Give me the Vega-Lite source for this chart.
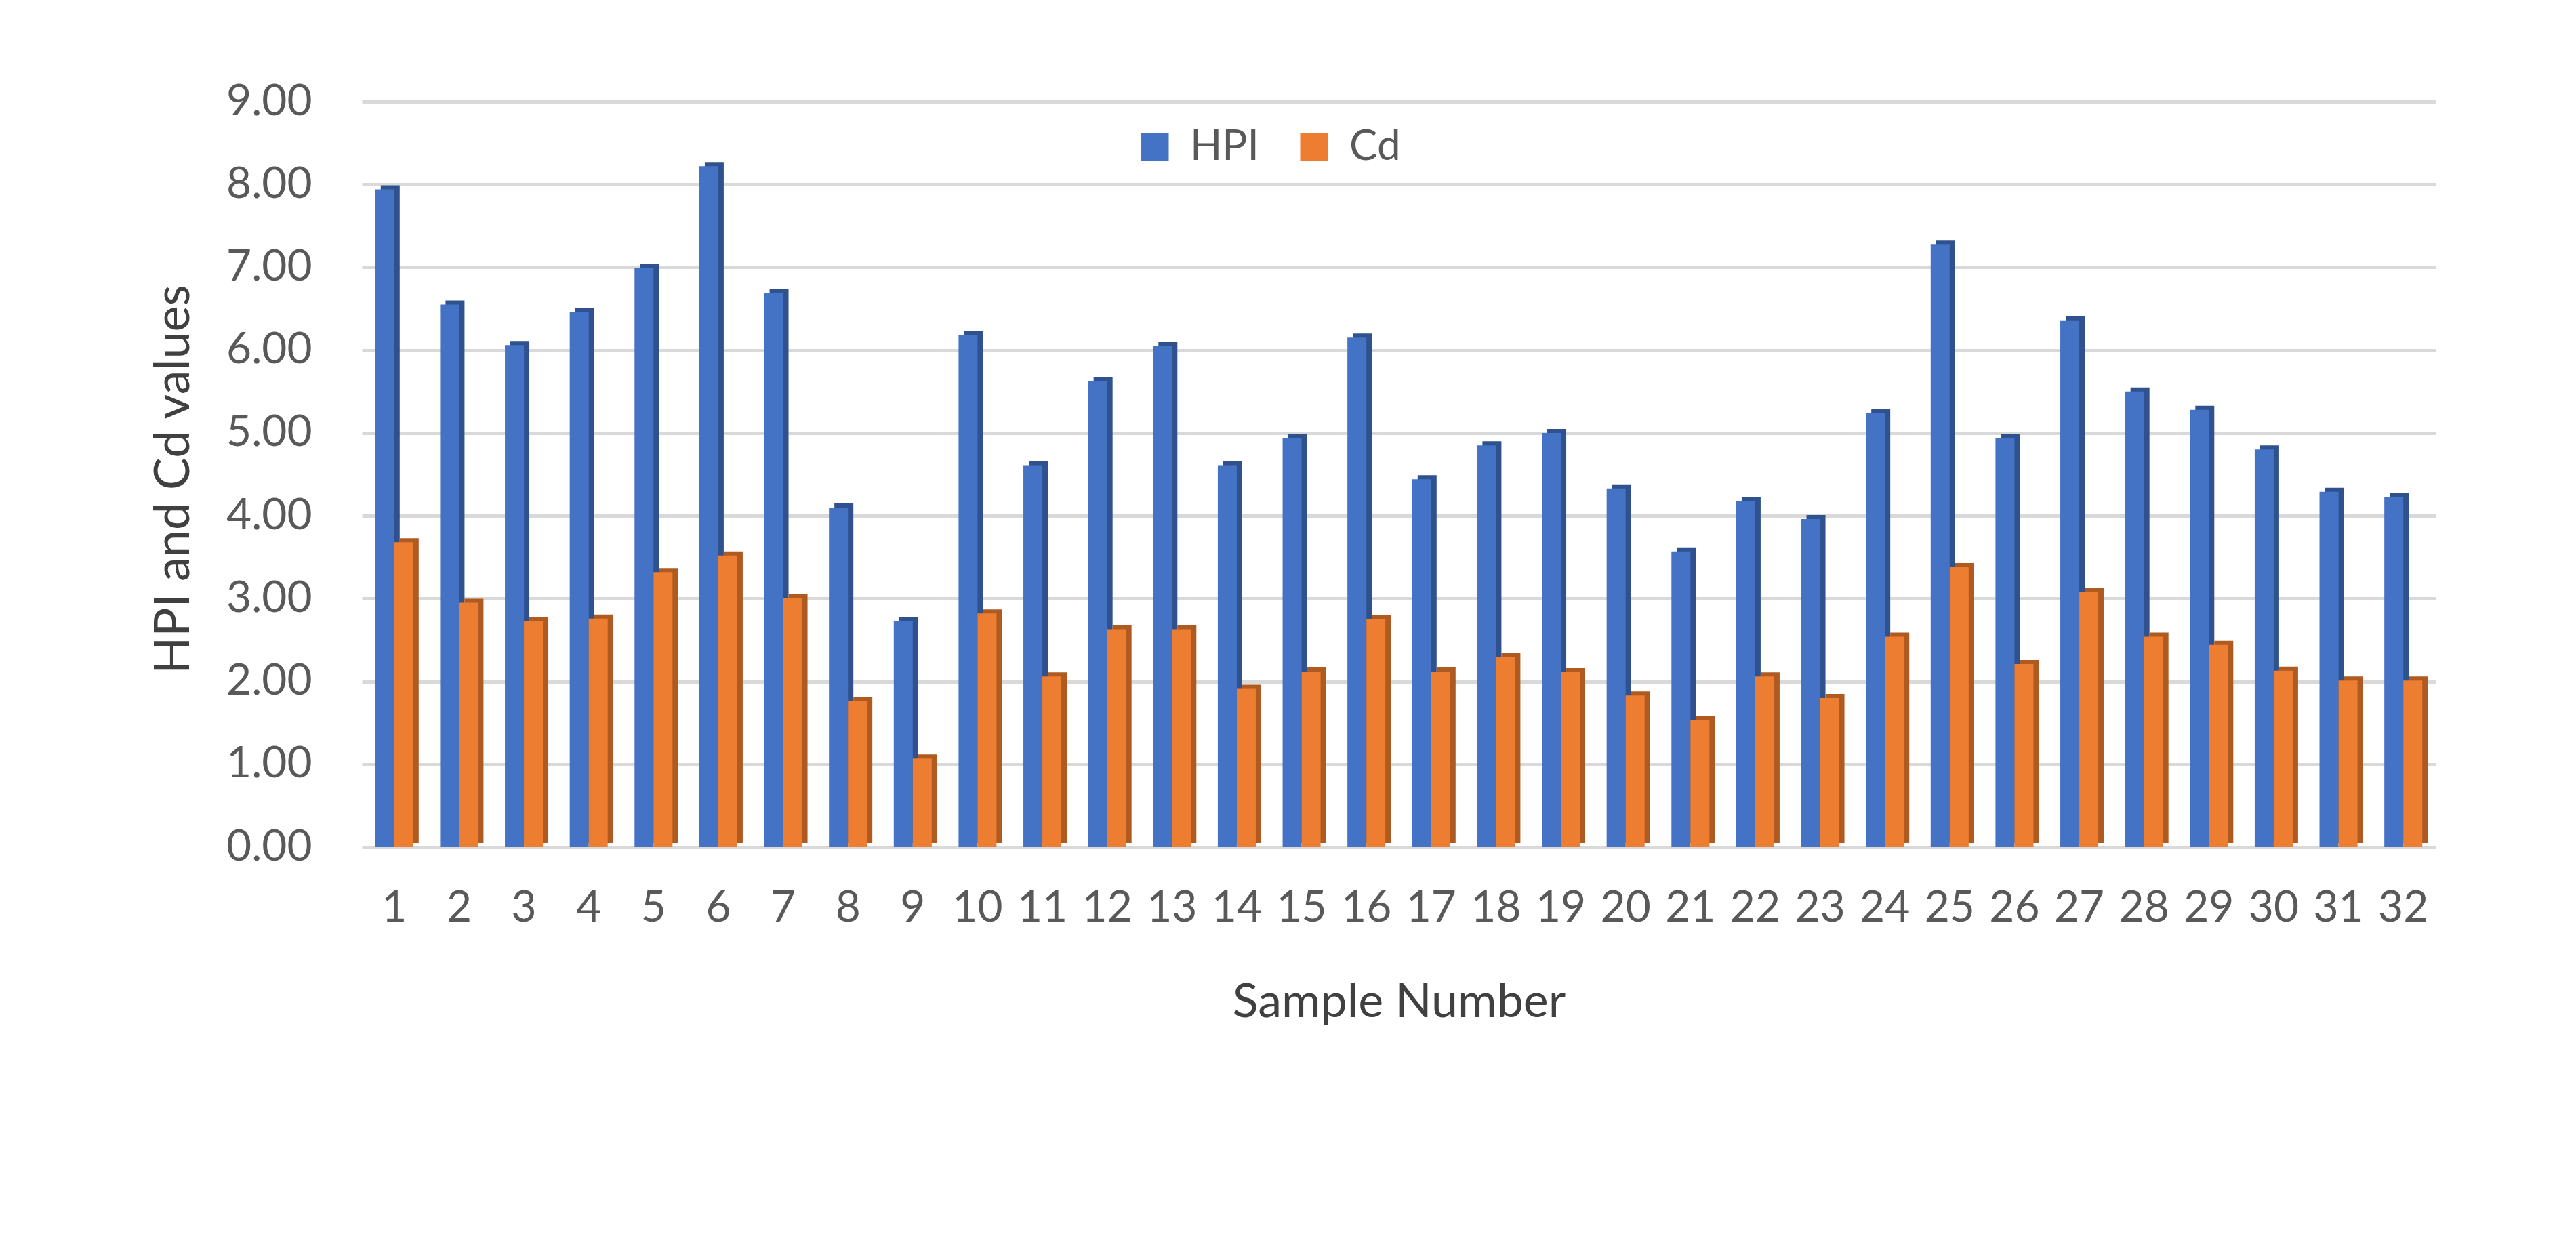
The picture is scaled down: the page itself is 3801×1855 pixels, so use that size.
{
  "$schema": "https://vega.github.io/schema/vega-lite/v6.json",
  "autosize": {"type": "none"},
  "width": 3060,
  "height": 1100,
  "padding": {"left": 534, "top": 150, "right": 207, "bottom": 605},
  "background": "white",
  "config": {
    "font": "Lato",
    "view": {"stroke": null}
  },
  "datasets": {
    "pts": [
      {"sample": 1, "series": "HPI", "value": 7.94}, {"sample": 1, "series": "Cd", "value": 3.68},
      {"sample": 2, "series": "HPI", "value": 6.55}, {"sample": 2, "series": "Cd", "value": 2.95},
      {"sample": 3, "series": "HPI", "value": 6.06}, {"sample": 3, "series": "Cd", "value": 2.73},
      {"sample": 4, "series": "HPI", "value": 6.46}, {"sample": 4, "series": "Cd", "value": 2.76},
      {"sample": 5, "series": "HPI", "value": 6.99}, {"sample": 5, "series": "Cd", "value": 3.32},
      {"sample": 6, "series": "HPI", "value": 8.22}, {"sample": 6, "series": "Cd", "value": 3.52},
      {"sample": 7, "series": "HPI", "value": 6.69}, {"sample": 7, "series": "Cd", "value": 3.01},
      {"sample": 8, "series": "HPI", "value": 4.10}, {"sample": 8, "series": "Cd", "value": 1.76},
      {"sample": 9, "series": "HPI", "value": 2.73}, {"sample": 9, "series": "Cd", "value": 1.07},
      {"sample": 10, "series": "HPI", "value": 6.18}, {"sample": 10, "series": "Cd", "value": 2.82},
      {"sample": 11, "series": "HPI", "value": 4.61}, {"sample": 11, "series": "Cd", "value": 2.06},
      {"sample": 12, "series": "HPI", "value": 5.63}, {"sample": 12, "series": "Cd", "value": 2.63},
      {"sample": 13, "series": "HPI", "value": 6.05}, {"sample": 13, "series": "Cd", "value": 2.63},
      {"sample": 14, "series": "HPI", "value": 4.61}, {"sample": 14, "series": "Cd", "value": 1.91},
      {"sample": 15, "series": "HPI", "value": 4.94}, {"sample": 15, "series": "Cd", "value": 2.12},
      {"sample": 16, "series": "HPI", "value": 6.15}, {"sample": 16, "series": "Cd", "value": 2.75},
      {"sample": 17, "series": "HPI", "value": 4.44}, {"sample": 17, "series": "Cd", "value": 2.12},
      {"sample": 18, "series": "HPI", "value": 4.85}, {"sample": 18, "series": "Cd", "value": 2.29},
      {"sample": 19, "series": "HPI", "value": 5.00}, {"sample": 19, "series": "Cd", "value": 2.11},
      {"sample": 20, "series": "HPI", "value": 4.33}, {"sample": 20, "series": "Cd", "value": 1.83},
      {"sample": 21, "series": "HPI", "value": 3.57}, {"sample": 21, "series": "Cd", "value": 1.53},
      {"sample": 22, "series": "HPI", "value": 4.18}, {"sample": 22, "series": "Cd", "value": 2.06},
      {"sample": 23, "series": "HPI", "value": 3.96}, {"sample": 23, "series": "Cd", "value": 1.80},
      {"sample": 24, "series": "HPI", "value": 5.24}, {"sample": 24, "series": "Cd", "value": 2.54},
      {"sample": 25, "series": "HPI", "value": 7.28}, {"sample": 25, "series": "Cd", "value": 3.38},
      {"sample": 26, "series": "HPI", "value": 4.94}, {"sample": 26, "series": "Cd", "value": 2.21},
      {"sample": 27, "series": "HPI", "value": 6.36}, {"sample": 27, "series": "Cd", "value": 3.08},
      {"sample": 28, "series": "HPI", "value": 5.50}, {"sample": 28, "series": "Cd", "value": 2.54},
      {"sample": 29, "series": "HPI", "value": 5.28}, {"sample": 29, "series": "Cd", "value": 2.44},
      {"sample": 30, "series": "HPI", "value": 4.80}, {"sample": 30, "series": "Cd", "value": 2.13},
      {"sample": 31, "series": "HPI", "value": 4.29}, {"sample": 31, "series": "Cd", "value": 2.01},
      {"sample": 32, "series": "HPI", "value": 4.23}, {"sample": 32, "series": "Cd", "value": 2.01}
    ]
  },
  "data": {"name": "pts"},
  "encoding": {
    "x": {
      "field": "sample",
      "type": "ordinal",
      "scale": {"paddingInner": 0.414, "paddingOuter": 0.207},
      "axis": {
        "title": "Sample Number",
        "labelAngle": 0,
        "labelFontSize": 64,
        "labelColor": "#595959",
        "labelBaseline": "middle",
        "labelPadding": 90,
        "ticks": false,
        "domain": false,
        "grid": false,
        "titleFontSize": 70,
        "titleFontWeight": "normal",
        "titleColor": "#404040",
        "titleBaseline": "middle",
        "titleY": 229
      }
    },
    "y": {
      "field": "value",
      "type": "quantitative",
      "scale": {"domain": [0, 9], "nice": false},
      "axis": {
        "title": "HPI and Cd values",
        "values": [0, 1, 2, 3, 4, 5, 6, 7, 8, 9],
        "format": ".2f",
        "labelFontSize": 64,
        "labelColor": "#595959",
        "labelPadding": 74,
        "ticks": false,
        "domain": false,
        "grid": true,
        "gridColor": "#D9D9D9",
        "gridWidth": 5,
        "titleFontSize": 72,
        "titleFontWeight": "normal",
        "titleColor": "#404040",
        "titleBaseline": "middle",
        "titleX": -278,
        "titleY": 557,
        "titleAngle": 270
      }
    }
  },
  "layer": [
    {
      "mark": {"type": "bar", "yOffset": -6},
      "encoding": {
        "xOffset": {"field": "series", "type": "nominal", "scale": {"domain": ["HPI", "Cd"], "range": [8, 64], "paddingInner": 0, "paddingOuter": 0}},
        "color": {
          "field": "series",
          "type": "nominal",
          "scale": {"domain": ["HPI", "Cd"], "range": ["#2F528F", "#AE5A21"]},
          "legend": null
        }
      }
    },
    {
      "mark": {"type": "bar"},
      "encoding": {
        "xOffset": {"field": "series", "type": "nominal", "scale": {"domain": ["HPI", "Cd"], "paddingInner": 0, "paddingOuter": 0}},
        "color": {
          "field": "series",
          "type": "nominal",
          "scale": {"domain": ["HPI", "Cd"], "range": ["#4472C4", "#ED7D31"]},
          "legend": {
            "title": null,
            "orient": "none",
            "direction": "horizontal",
            "legendX": 1139,
            "legendY": 36,
            "symbolType": "square",
            "symbolSize": 1681,
            "symbolStrokeWidth": 0,
            "labelFontSize": 62,
            "labelColor": "#595959",
            "labelOffset": 21,
            "columnPadding": 50
          }
        }
      }
    }
  ],
  "resolve": {"scale": {"color": "independent", "xOffset": "independent"}}
}
